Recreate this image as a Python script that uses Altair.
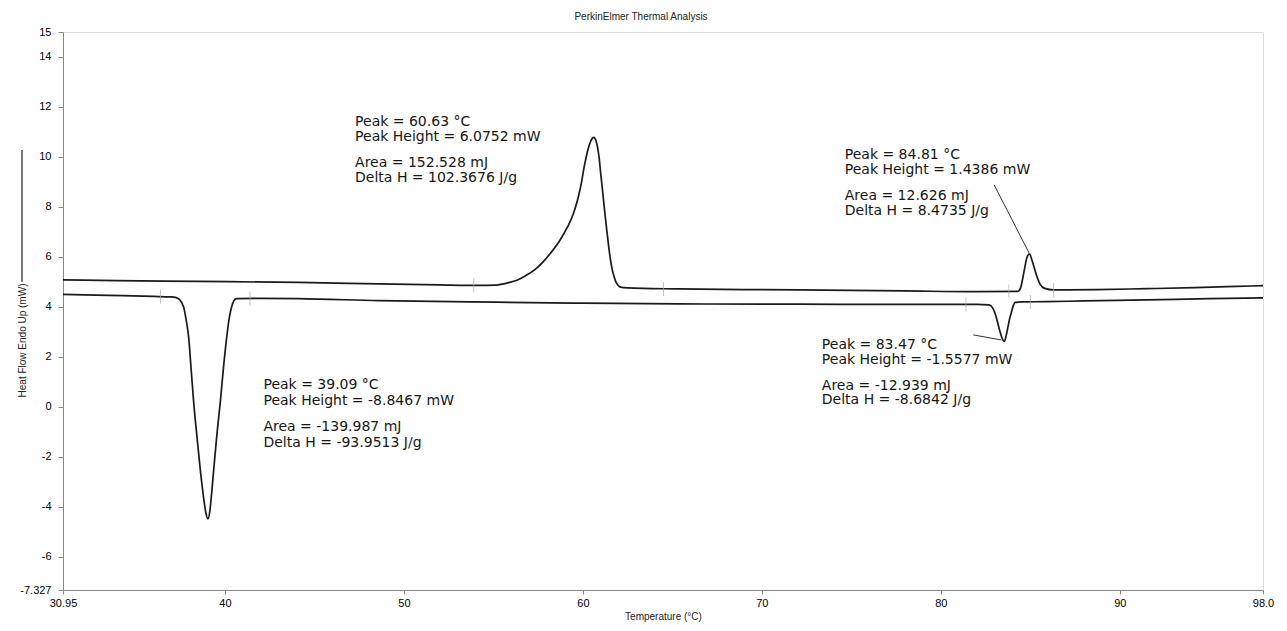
import altair as alt
import pandas as pd

# ---- heating scan (upper curve) ----
heat_temp = [30.95, 34.0, 38.5, 44.1, 48.6, 52.0, 54.1, 55.1, 55.4, 55.9, 56.35, 56.8, 57.3, 57.75,
             58.2, 58.7, 59.14, 59.45, 59.7, 59.9, 60.07, 60.25, 60.45, 60.6, 60.75, 60.9, 61.0,
             61.12, 61.25, 61.37, 61.46, 61.56, 61.65, 61.75, 61.83, 61.95, 62.1, 62.5, 65.3,
             72.0, 78.0, 82.0, 84.3, 84.45, 84.55, 84.67, 84.8, 84.95, 85.1, 85.33, 85.55, 85.8,
             86.3, 88.7, 91.5, 94.2, 96.5, 98.0]
heat_flow = [5.08, 5.05, 5.02, 4.98, 4.92, 4.88, 4.86, 4.87, 4.9, 4.98, 5.08, 5.25, 5.48, 5.78,
             6.16, 6.65, 7.2, 7.7, 8.28, 8.9, 9.6, 10.2, 10.65, 10.78, 10.6, 10.0, 9.3,
             8.5, 7.6, 6.85, 6.3, 5.8, 5.45, 5.2, 5.02, 4.88, 4.79, 4.76, 4.72,
             4.68, 4.64, 4.61, 4.62, 4.75, 5.05, 5.5, 5.95, 6.12, 5.85, 5.3, 4.9, 4.74,
             4.68, 4.69, 4.73, 4.77, 4.82, 4.85]

# ---- cooling scan (lower curve) ----
cool_temp = [30.95, 33.5, 36.0, 37.0, 37.23, 37.45, 37.69, 37.85, 37.97, 38.1, 38.25, 38.45, 38.62,
             38.8, 38.95, 39.05, 39.15, 39.25, 39.36, 39.55, 39.74, 39.92, 40.1, 40.25, 40.37,
             40.5, 40.65, 42.0, 44.1, 48.6, 55.2, 60.0, 65.3, 72.0, 78.0, 82.0, 82.7, 82.9,
             83.05, 83.28, 83.45, 83.55, 83.65, 83.75, 83.85, 83.95, 84.05, 84.15, 84.5, 85.9,
             88.0, 91.5, 95.0, 98.0]
cool_flow = [4.5, 4.46, 4.42, 4.4, 4.38, 4.3, 4.0, 3.4, 2.8, 1.6, 0.2, -1.3, -2.5,
             -3.6, -4.3, -4.48, -4.2, -3.5, -2.6, -1.1, 0.2, 1.6, 2.8, 3.6, 4.0,
             4.25, 4.33, 4.34, 4.33, 4.25, 4.19, 4.15, 4.12, 4.11, 4.1, 4.1, 4.08, 3.95,
             3.7, 3.08, 2.7, 2.62, 2.85, 3.2, 3.55, 3.8, 4.05, 4.18, 4.2, 4.21,
             4.24, 4.28, 4.33, 4.36]

# ---- integration-limit markers ----
mark_temp = [53.9, 64.5, 83.8, 86.3, 36.4, 41.4, 81.4, 85.0]
mark_flow = [4.86, 4.72, 4.62, 4.68, 4.42, 4.34, 4.1, 4.2]

# ---- annotation texts ----
ann_temp = [47.27] * 4 + [74.63] * 4 + [73.35] * 4 + [42.15] * 4
ann_flow = [11.4, 10.8, 9.76, 9.16,
            10.08, 9.48, 8.44, 7.84,
            2.48, 1.88, 0.84, 0.28,
            0.88, 0.24, -0.8, -1.44]
ann_text = ["Peak = 60.63 °C", "Peak Height = 6.0752 mW", "Area = 152.528 mJ", "Delta H = 102.3676 J/g",
            "Peak = 84.81 °C", "Peak Height = 1.4386 mW", "Area = 12.626 mJ", "Delta H = 8.4735 J/g",
            "Peak = 83.47 °C", "Peak Height = -1.5577 mW", "Area = -12.939 mJ", "Delta H = -8.6842 J/g",
            "Peak = 39.09 °C", "Peak Height = -8.8467 mW", "Area = -139.987 mJ", "Delta H = -93.9513 J/g"]

# ---- leader lines ----
lead_t1 = [82.98, 81.81]
lead_v1 = [8.88, 2.88]
lead_t2 = [84.93, 83.37]
lead_v2 = [6.16, 2.68]

x_ticks = [30.95, 40, 50, 60, 70, 80, 90, 98]
y_ticks = [-7.327, -6, -4, -2, 0, 2, 4, 6, 8, 10, 12, 14, 15]

curves = pd.concat([
    pd.DataFrame({"t": heat_temp, "v": heat_flow, "curve": "heat", "i": range(len(heat_temp))}),
    pd.DataFrame({"t": cool_temp, "v": cool_flow, "curve": "cool", "i": range(len(cool_temp))}),
])
marks = pd.DataFrame({"t": mark_temp, "v": mark_flow})
ann = pd.DataFrame({"t": ann_temp, "v": ann_flow, "label": ann_text})
leads = pd.DataFrame({"t": lead_t1, "v": lead_v1, "t2": lead_t2, "v2": lead_v2})

FONT = "Liberation Sans"

xscale = alt.Scale(domain=[30.95, 98.0], nice=False, zero=False)
yscale = alt.Scale(domain=[-7.327, 15], nice=False, zero=False)

xaxis = alt.Axis(values=x_ticks, labelExpr="datum.value == 98 ? '98.0' : '' + datum.value",
                 title="Temperature (°C)", grid=False, labelFlush=False, labelOverlap=False,
                 tickSize=4, labelPadding=3, titlePadding=3, titleFontSize=10,
                 titleFontWeight="normal", labelFontSize=11, titleColor="#222")
yaxis = alt.Axis(values=y_ticks, labelExpr="'' + datum.value", title="Heat Flow Endo Up (mW)",
                 grid=False, labelFlush=False, labelOverlap=False, tickSize=5, labelPadding=7,
                 titleFontSize=10, titleFontWeight="normal", titleX=-41, titleY=308,
                 titleAngle=270, titleAlign="center", titleBaseline="middle", titleColor="#222",
                 labelFontSize=11)

lines = alt.Chart(curves).mark_line(color="#1a1a1a", strokeWidth=1.7, interpolate="monotone").encode(
    x=alt.X("t:Q", scale=xscale, axis=xaxis),
    y=alt.Y("v:Q", scale=yscale, axis=yaxis),
    detail="curve:N",
    order="i:Q",
)

ticks = alt.Chart(marks).mark_tick(color="#aaaaaa", size=14, thickness=1, orient="vertical").encode(
    x="t:Q", y="v:Q")

leaders = alt.Chart(leads).mark_rule(color="#333333", strokeWidth=1).encode(
    x="t:Q", y="v:Q", x2="t2:Q", y2="v2:Q")

texts = alt.Chart(ann).mark_text(align="left", baseline="middle", fontSize=14, font="DejaVu Sans",
                                 color="#161616").encode(x="t:Q", y="v:Q", text="label:N")

ytitle_line = alt.Chart(pd.DataFrame({"a": [0]})).mark_rule(color="#222222", strokeWidth=1.2).encode(
    x=alt.value(-41), y=alt.value(118), y2=alt.value(250))

chart = alt.layer(lines, ticks, leaders, texts, ytitle_line).properties(
    width=1200, height=558,
    title=alt.TitleParams("PerkinElmer Thermal Analysis", fontSize=10, fontWeight="normal",
                          font=FONT, color="#222222", dx=-22, offset=4, anchor="middle"),
    autosize=alt.AutoSizeParams(type="none"),
    padding={"left": 55, "top": 24, "right": 16, "bottom": 33},
).configure_axis(
    domainColor="#888888", tickColor="#888888", labelColor="#222222", labelFont=FONT,
    titleFont=FONT,
).configure_view(stroke=None).configure(background="white")

chart.save("out.html", embed_options={"renderer": "svg", "actions": False})
